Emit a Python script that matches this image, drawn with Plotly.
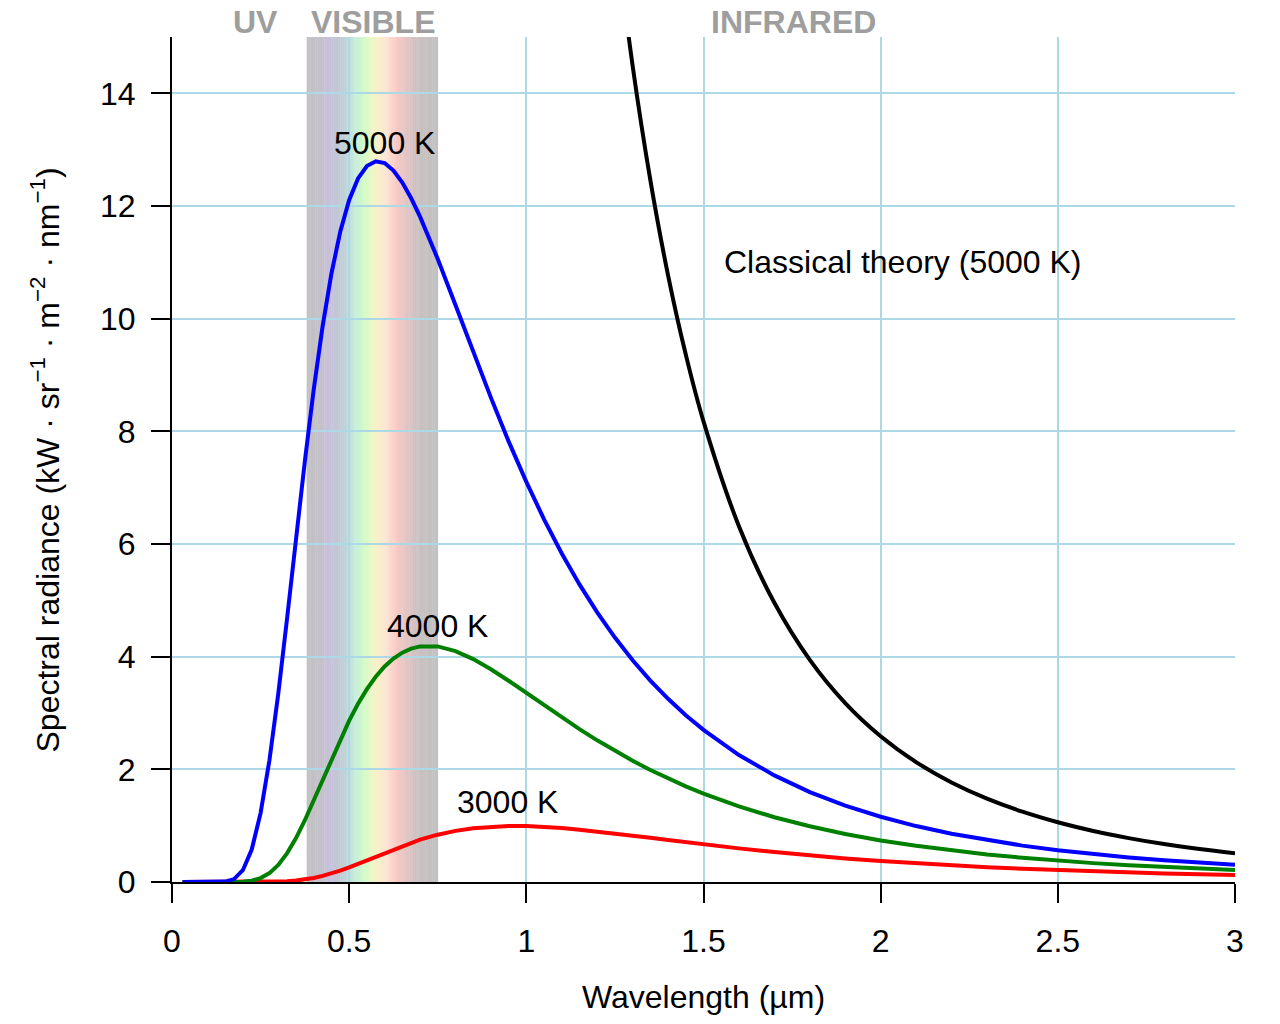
# Black body spectral radiance vs wavelength, with the classical (Rayleigh-Jeans) curve
import plotly.graph_objects as go
import numpy as np

wavelength = [0.03, 0.05, 0.075, 0.1, 0.125, 0.15, 0.175, 0.2, 0.225, 0.25, 0.275, 0.3,
              0.325, 0.35, 0.375, 0.4, 0.425, 0.45, 0.475, 0.5, 0.525, 0.55, 0.575, 0.6,
              0.625, 0.65, 0.675, 0.7, 0.75, 0.8, 0.85, 0.9, 0.95, 1.0, 1.05, 1.1, 1.15,
              1.2, 1.25, 1.3, 1.35, 1.4, 1.45, 1.5, 1.6, 1.7, 1.8, 1.9, 2.0, 2.1, 2.2,
              2.3, 2.4, 2.5, 2.6, 2.7, 2.8, 2.9, 3.0]

radiance_5000 = [0, 0, 0, 0, 0.0, 0.007, 0.052, 0.210, 0.576, 1.223, 2.162, 3.348,
                 4.693, 6.098, 7.474, 8.743, 9.863, 10.802, 11.549, 12.107, 12.490, 12.709, 12.794, 12.762,
                 12.629, 12.415, 12.137, 11.811, 11.060, 10.241, 9.409, 8.598, 7.822, 7.102, 6.438, 5.832, 5.283,
                 4.786, 4.339, 3.937, 3.576, 3.252, 2.961, 2.700, 2.254, 1.892, 1.597, 1.356, 1.158, 0.993, 0.856,
                 0.742, 0.646, 0.564, 0.495, 0.436, 0.386, 0.342, 0.305]

radiance_4000 = [0, 0, 0, 0, 0, 0.0, 0.001, 0.006, 0.024, 0.069, 0.158, 0.304,
                 0.513, 0.780, 1.097, 1.446, 1.813, 2.181, 2.534, 2.865, 3.163, 3.424, 3.644, 3.826,
                 3.967, 4.071, 4.142, 4.182, 4.182, 4.099, 3.957, 3.777, 3.572, 3.356, 3.138, 2.922, 2.714,
                 2.515, 2.327, 2.152, 1.988, 1.837, 1.697, 1.568, 1.341, 1.150, 0.989, 0.853, 0.738, 0.642, 0.560,
                 0.490, 0.430, 0.379, 0.335, 0.298, 0.265, 0.236, 0.212]

radiance_3000 = [0, 0, 0, 0, 0, 0, 0, 0, 0.0, 0.001, 0.002, 0.006,
                 0.013, 0.025, 0.045, 0.072, 0.108, 0.152, 0.203, 0.260, 0.322, 0.387, 0.452, 0.517,
                 0.581, 0.641, 0.698, 0.751, 0.840, 0.908, 0.955, 0.983, 0.994, 0.992, 0.979, 0.957, 0.929,
                 0.896, 0.860, 0.822, 0.784, 0.745, 0.706, 0.668, 0.597, 0.531, 0.472, 0.419, 0.372, 0.331, 0.295,
                 0.263, 0.235, 0.210, 0.188, 0.169, 0.152, 0.137, 0.124]

classical_wavelength = [1.25, 1.3, 1.35, 1.4, 1.45, 1.5, 1.6, 1.7, 1.8, 1.9, 2.0,
                        2.1, 2.2, 2.3, 2.4, 2.5, 2.6, 2.7, 2.8, 2.9, 3.0]
classical_5000 = [16.95, 14.49, 12.46, 10.77, 9.363, 8.176, 6.316, 4.956, 3.943, 3.176, 2.587,
                  2.128, 1.767, 1.479, 1.248, 1.060, 0.906, 0.779, 0.673, 0.585, 0.511]

# colour stops of the visible band (wavelength in um, colour)
band_pos = [0.38, 0.425, 0.445, 0.47, 0.495, 0.515, 0.54, 0.56, 0.58, 0.605, 0.635, 0.665, 0.70, 0.75]
band_col = ['#c2c0c0', '#c4c0cc', '#c8c0dc', '#c0c8d4', '#c0d8d8', '#c4ecdc', '#d0fac8',
            '#e8f8c4', '#f8f0c8', '#fce4d4', '#f8c8c4', '#e0c4c4', '#c8c0c0', '#c2c0c0']

FONT = 'Liberation Sans, Arial, sans-serif'


def hex_to_rgb(h):
    return [int(h[i:i + 2], 16) for i in (1, 3, 5)]


rgb = np.array([hex_to_rgb(c) for c in band_col], dtype=float)
edges = np.arange(0.38, 0.7501, 0.005)
shapes = []
for x0, x1 in zip(edges[:-1], edges[1:]):
    mid = (x0 + x1) / 2
    r, g, b = [int(round(np.interp(mid, band_pos, rgb[:, k]))) for k in range(3)]
    shapes.append(dict(type='rect', xref='x', yref='y', x0=x0, x1=x1 + 0.001, y0=0, y1=15,
                       fillcolor=f'rgb({r},{g},{b})', line=dict(width=0), layer='below'))

fig = go.Figure()
fig.add_trace(go.Scatter(x=classical_wavelength, y=classical_5000, mode='lines',
                         line=dict(color='black', width=4, shape='spline'), name='Classical'))
fig.add_trace(go.Scatter(x=wavelength, y=radiance_3000, mode='lines',
                         line=dict(color='#ff0000', width=4), name='3000 K'))
fig.add_trace(go.Scatter(x=wavelength, y=radiance_4000, mode='lines',
                         line=dict(color='#008000', width=4), name='4000 K'))
fig.add_trace(go.Scatter(x=wavelength, y=radiance_5000, mode='lines',
                         line=dict(color='#0000ff', width=4), name='5000 K'))

label_font = dict(family=FONT, size=32, color='black')
head_font = dict(family=FONT, size=32, color='#9e9e9e', weight='bold')
annotations = [
    dict(x=0.452, y=13.11, text='5000 K', xanchor='left', yanchor='middle'),
    dict(x=0.601, y=4.55, text='4000 K', xanchor='left', yanchor='middle'),
    dict(x=0.80, y=1.42, text='3000 K', xanchor='left', yanchor='middle'),
    dict(x=1.552, y=11.0, text='Classical theory (5000 K)', xanchor='left', yanchor='middle'),
]
annotations = [dict(a, xref='x', yref='y', showarrow=False, font=label_font) for a in annotations]
for x, t in [(0.237, 'UV'), (0.567, 'VISIBLE'), (1.753, 'INFRARED')]:
    annotations.append(dict(x=x, y=1.018, xref='x', yref='paper', text=t, showarrow=False,
                            xanchor='center', yanchor='middle', font=head_font))
annotations.append(dict(x=0.5, y=-0.136, xref='paper', yref='paper', text='Wavelength (µm)',
                        showarrow=False, xanchor='center', yanchor='middle', font=label_font))
annotations.append(dict(x=-0.1195, y=0.5, xref='paper', yref='paper', textangle=-90,
                        text='Spectral radiance (kW · sr<sup>−1</sup> · m<sup>−2</sup> · nm<sup>−1</sup>)',
                        showarrow=False, xanchor='center', yanchor='middle', font=label_font))

axis_common = dict(showline=True, linecolor='black', linewidth=2, ticks='outside', ticklen=19,
                   tickwidth=2, tickcolor='black', showgrid=True, gridcolor='#add8e6', gridwidth=2,
                   zeroline=False, tickfont=dict(family=FONT, size=32, color='black'))

fig.update_layout(
    width=1280, height=1024,
    margin=dict(l=164, r=53, t=29, b=150),
    paper_bgcolor='white', plot_bgcolor='white',
    showlegend=False,
    shapes=shapes,
    annotations=annotations,
    xaxis=dict(range=[0, 3], dtick=0.5, tick0=0, ticklabelstandoff=11, **axis_common),
    yaxis=dict(range=[0, 15], dtick=2, tick0=0, ticklabelstandoff=9, **axis_common),
)

fig.write_html("out.html")
